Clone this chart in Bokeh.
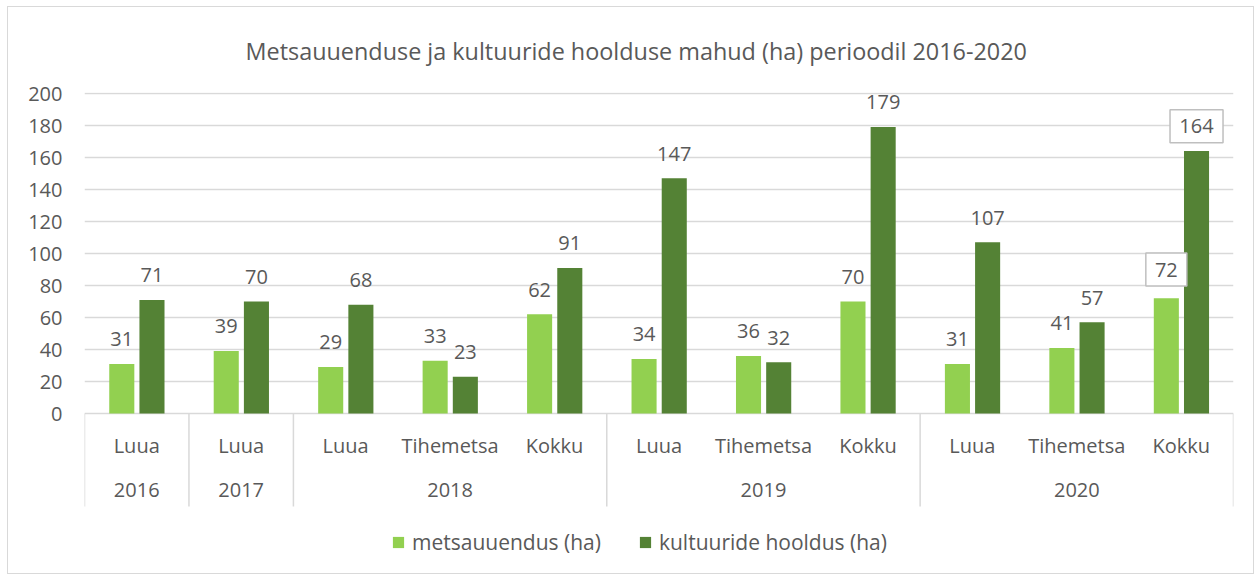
from bokeh.plotting import figure
from bokeh.models import (ColumnDataSource, Range1d, Legend, LegendItem)
from bokeh.core.properties import value
from bokeh.embed import file_html
from bokeh.resources import INLINE

# ---- data ----
years = ["2016", "2017", "2018", "2018", "2018", "2019", "2019", "2019", "2020", "2020", "2020"]
subs = ["Luua", "Luua", "Luua", "Tihemetsa", "Kokku", "Luua", "Tihemetsa", "Kokku", "Luua", "Tihemetsa", "Kokku"]
metsauuendus = [31, 39, 29, 33, 62, 34, 36, 70, 31, 41, 72]
hooldus = [71, 70, 68, 23, 91, 147, 32, 179, 107, 57, 164]
boxed = [("2020", "Kokku")]
year_groups = ["2016", "2017", "2018", "2019", "2020"]
series_names = ["metsauuendus (ha)", "kultuuride hooldus (ha)"]
colors = ["#92D050", "#548235"]
title_text = "Metsauuenduse ja kultuuride hoolduse mahud (ha) perioodil 2016-2020"

FONT = "Open Sans"
TXT = "#595959"
GRID = "#d9d9d9"

n = len(subs)
xc = [i + 0.5 for i in range(n)]          # category centres on the x scale
OFF_A, OFF_B, BW = -0.143, 0.146, 0.24
Y_LO = -98.75
SEP_LO = -58.125

p = figure(x_range=Range1d(0, n), y_range=Range1d(Y_LO, 200.625),
           width=1247, height=568, output_backend="svg", toolbar_location=None,
           min_border_left=76, min_border_right=22, min_border_top=83, min_border_bottom=4)
p.styles = {"border": "1px solid #d9d9d9", "margin": "6px 0 0 7px"}
p.outline_line_color = None
p.xaxis.visible = False
p.xgrid.visible = False

yt = list(range(0, 201, 20))
p.yaxis.ticker = yt
p.ygrid.ticker = yt
p.ygrid.grid_line_color = GRID
p.ygrid.grid_line_width = 1.5
p.yaxis.axis_line_color = None
p.yaxis.major_tick_line_color = None
p.yaxis.minor_tick_line_color = None
p.yaxis.major_tick_out = 0
p.yaxis.major_label_standoff = 22
p.yaxis.major_label_text_font = FONT
p.yaxis.major_label_text_font_size = "20px"
p.yaxis.major_label_text_color = TXT

p.title.text = title_text
p.title.text_font = FONT
p.title.text_font_size = "23.4px"
p.title.text_font_style = "normal"
p.title.text_color = TXT
p.title.align = "left"
p.title.offset = 161
p.title.standoff = 51

src = ColumnDataSource(dict(xa=[x + OFF_A for x in xc], xb=[x + OFF_B for x in xc],
                            m=metsauuendus, h=hooldus))
r1 = p.vbar(x="xa", top="m", width=BW, source=src, fill_color=colors[0], line_color=None)
r2 = p.vbar(x="xb", top="h", width=BW, source=src, fill_color=colors[1], line_color=None)

factors = list(zip(years, subs))
plain_idx = [i for i, f in enumerate(factors) if f not in boxed]
box_idx = [i for i, f in enumerate(factors) if f in boxed]

LAB = 15.5
def lab_src(idx, extra_a=0.0):
    return ColumnDataSource(dict(
        xa=[xc[i] + OFF_A for i in idx], xb=[xc[i] + OFF_B for i in idx],
        my=[metsauuendus[i] + LAB + extra_a for i in idx], hy=[hooldus[i] + LAB for i in idx],
        ms=[str(metsauuendus[i]) for i in idx], hs=[str(hooldus[i]) for i in idx]))

ps = lab_src(plain_idx)
for xcol, col, tcol in (("xa", "my", "ms"), ("xb", "hy", "hs")):
    p.text(x=xcol, y=col, text=tcol, source=ps,
           text_font=value(FONT), text_font_size="20px", text_color=TXT,
           text_align="center", text_baseline="middle")

bs = lab_src(box_idx, extra_a=2.5)
for xcol, col, tcol, w in (("xa", "my", "ms", 41), ("xb", "hy", "hs", 53)):
    p.rect(x=xcol, y=col, width=w, height=33, width_units="screen", height_units="screen",
           source=bs, fill_color="white", line_color="#bfbfbf", line_width=1.5)
    p.text(x=xcol, y=col, text=tcol, source=bs,
           text_font=value(FONT), text_font_size="20px", text_color=TXT,
           text_align="center", text_baseline="middle")

# category labels
cat_src = ColumnDataSource(dict(x=xc, y=[-20] * n, t=subs))
p.text(x="x", y="y", text="t", source=cat_src, text_font=value(FONT), text_font_size="20px",
       text_color=TXT, text_align="center", text_baseline="middle")

g_lo = [min(i for i in range(n) if years[i] == g) for g in year_groups]
g_hi = [max(i for i in range(n) if years[i] == g) + 1 for g in year_groups]
yr_src = ColumnDataSource(dict(x=[(a + b) / 2 for a, b in zip(g_lo, g_hi)],
                               y=[-48.1] * len(year_groups), t=year_groups))
p.text(x="x", y="y", text="t", source=yr_src, text_font=value(FONT), text_font_size="20px",
       text_color=TXT, text_align="center", text_baseline="middle")

# group separators
edges = g_lo + [g_hi[-1]]
sep_src = ColumnDataSource(dict(x0=edges, x1=edges, y0=[0] * len(edges), y1=[SEP_LO] * len(edges)))
p.segment(x0="x0", y0="y0", x1="x1", y1="y1", source=sep_src, line_color=GRID, line_width=1.5)

legend = Legend(items=[LegendItem(label=series_names[0], renderers=[r1]),
                       LegendItem(label=series_names[1], renderers=[r2])],
                orientation="horizontal", location=(307, 15),
                glyph_width=14, glyph_height=14, label_standoff=7, spacing=37,
                label_text_font=FONT, label_text_font_size="21px", label_text_color=TXT,
                border_line_color=None, background_fill_alpha=0, margin=0, padding=4)
p.add_layout(legend)

open("out.html", "w").write(file_html(p, INLINE))
